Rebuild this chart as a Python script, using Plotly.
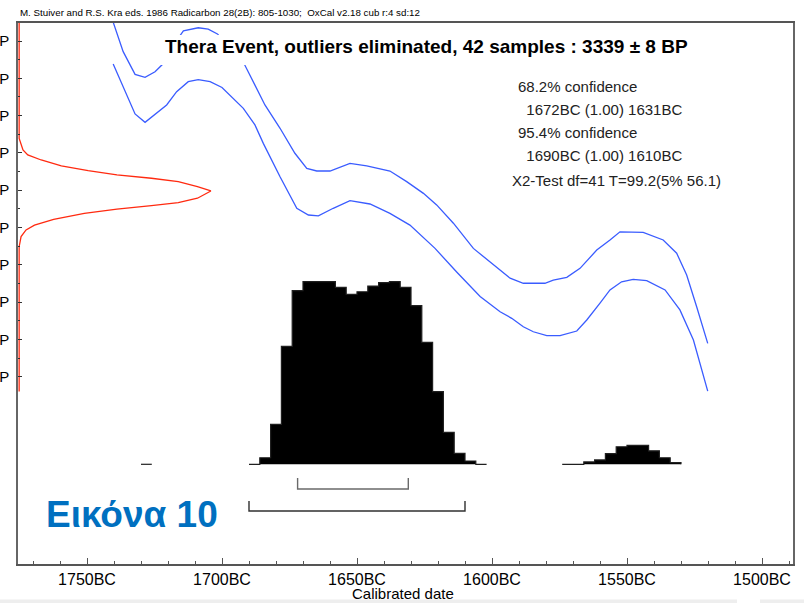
import plotly.graph_objects as go

# ---------------- data ----------------
# calibration curve band (cal BC, radiocarbon BP)
upper_years = [1740.4, 1736.6, 1732.2, 1728.5, 1724.8, 1722.0, 1718.5, 1714.3, 1708.8, 1705.1,
               1701.7, 1696.7, 1691.7, 1684.1, 1678.5, 1673.0, 1668.6, 1664.9, 1660.0, 1652.6,
               1646.4, 1637.8, 1631.6, 1625.4, 1620.5, 1614.3, 1606.9, 1597.0, 1593.3, 1588.4,
               1580.4, 1577.3, 1572.3, 1567.4, 1561.2, 1556.3, 1552.6, 1544.0, 1536.6, 1531.6,
               1527.9, 1524.2, 1520.1]
upper_bp = [3430.5, 3414.3, 3402.1, 3400.5, 3403.5, 3407.5, 3416.8, 3425.4, 3427.1, 3426.4,
            3423.8, 3416.2, 3407.5, 3385.7, 3373.2, 3359.8, 3351.7, 3350.3, 3350.3, 3354.4,
            3353.0, 3350.3, 3344.6, 3338.3, 3332.1, 3322.3, 3308.8, 3297.2, 3292.8, 3290.1,
            3290.1, 3291.8, 3293.3, 3298.1, 3307.9, 3313.3, 3317.7, 3317.4, 3313.3, 3306.2,
            3294.5, 3277.5, 3257.9]
lower_years = [1740.3, 1735.9, 1732.2, 1728.5, 1724.2, 1720.5, 1716.8, 1712.5, 1708.8, 1704.4,
               1700.0, 1697.0, 1692.1, 1687.8, 1684.7, 1678.5, 1672.3, 1668.0, 1664.3, 1658.8,
               1652.6, 1645.2, 1637.8, 1630.4, 1621.1, 1613.0, 1604.4, 1597.0, 1592.7, 1588.4,
               1584.7, 1579.7, 1574.8, 1568.6, 1564.9, 1560.0, 1556.3, 1552.0, 1547.7, 1542.7,
               1535.9, 1530.4, 1525.4, 1520.1]
lower_bp = [3407.7, 3392.8, 3380.9, 3376.4, 3381.2, 3385.7, 3392.8, 3398.2, 3399.3, 3398.2,
            3395.1, 3391.0, 3383.9, 3375.0, 3365.1, 3347.2, 3330.3, 3326.7, 3326.2, 3330.3,
            3334.4, 3332.6, 3327.6, 3321.3, 3308.8, 3296.0, 3283.0, 3274.8, 3271.3, 3266.8,
            3264.1, 3262.0, 3262.0, 3264.5, 3270.4, 3279.4, 3286.5, 3290.9, 3292.2, 3291.5,
            3286.5, 3275.8, 3259.7, 3232.3]

# radiocarbon determination 3339 +/- 8 BP (relative probability)
r_bp = [3430.0, 3367.8, 3361.6, 3358.9, 3356.2, 3353.1, 3350.5, 3348.2, 3346.4, 3344.6, 3341.9,
        3339.6, 3335.7, 3333.3, 3331.7, 3329.8, 3327.6, 3324.4, 3321.3, 3318.7, 3315.1,
        3309.7, 3232.0]
r_prob = [0.0, 0.0, 0.02, 0.045, 0.115, 0.22, 0.36, 0.51, 0.69, 0.83, 0.93,
          1.0, 0.93, 0.83, 0.69, 0.51, 0.34, 0.18, 0.08, 0.036, 0.01,
          0.0, 0.0]

# calibrated distribution (bin start, cal BC; relative probability)
hist_a_years = [1690, 1686, 1682, 1678, 1674, 1670, 1666, 1662, 1658, 1654, 1650, 1646,
                1642, 1638, 1634, 1630, 1626, 1622, 1618, 1614, 1610, 1606, 1602]
hist_a_prob = [0.0, 0.036, 0.219, 0.646, 0.951, 1.0, 1.0, 1.0, 0.969, 0.931, 0.945, 0.976,
               0.995, 1.0, 0.969, 0.869, 0.668, 0.398, 0.175, 0.060, 0.018, 0.0, 0.0]
hist_b_years = [1574, 1566, 1562, 1558, 1554, 1550, 1546, 1542, 1538, 1534, 1530]
hist_b_prob = [0.0, 0.013, 0.024, 0.058, 0.096, 0.104, 0.104, 0.074, 0.036, 0.009, 0.0]
hist_c_years = [1730, 1726]
hist_c_prob = [0.0, 0.0]

range_68 = [1672, 1631]
range_95 = [1690, 1610]

x_ticks = [1750, 1700, 1650, 1600, 1550, 1500]
x_tick_labels = ["1750BC", "1700BC", "1650BC", "1600BC", "1550BC", "1500BC"]
y_ticks = [3420, 3400, 3380, 3360, 3340, 3320, 3300, 3280, 3260, 3240]
y_tick_labels = ["P"] * len(y_ticks)
y_minor = [3410, 3390, 3370, 3350, 3330, 3310, 3290, 3270, 3250]

title_text = "Thera Event, outliers eliminated, 42 samples : 3339 \u00b1 8 BP"
header_text = "M. Stuiver and R.S. Kra eds. 1986 Radicarbon 28(2B): 805-1030;  OxCal v2.18 cub r:4 sd:12"
x_title = "Calibrated date"
info_lines = ["68.2% confidence", "  1672BC (1.00) 1631BC", "95.4% confidence",
              "  1690BC (1.00) 1610BC", "X2-Test df=41 T=99.2(5% 56.1)"]

# ---------------- layout geometry (screen pixels) ----------------
W, H = 804, 603
L, R, T, B = 18, 793, 23, 564  # plot frame on screen
FONT = "Liberation Sans, Arial, sans-serif"


def px(x):
    return (x - L) / (R - L)


def py(y):
    return (B - y) / (B - T)


fig = go.Figure()

# calibrated histogram (y2)
for xs, ys in [(hist_a_years, hist_a_prob), (hist_b_years, hist_b_prob), (hist_c_years, hist_c_prob)]:
    fig.add_trace(go.Scatter(x=xs, y=ys, xaxis="x", yaxis="y2", mode="lines",
                             line=dict(shape="hv", color="#202020", width=1.2),
                             fill="tozeroy", fillcolor="black", hoverinfo="skip"))

# confidence brackets
for rng, lvl, tip, col in [(range_68, -0.135, -0.075, "#6a6a6a"), (range_95, -0.256, -0.201, "#303030")]:
    fig.add_trace(go.Scatter(x=[rng[0], rng[0], rng[1], rng[1]], y=[tip, lvl, lvl, tip],
                             xaxis="x", yaxis="y2", mode="lines",
                             line=dict(color=col, width=1.4), hoverinfo="skip"))

# calibration curve band
for xs, ys in [(upper_years, upper_bp), (lower_years, lower_bp)]:
    fig.add_trace(go.Scatter(x=xs, y=ys, xaxis="x", yaxis="y", mode="lines",
                             line=dict(color="#3a5cff", width=1.3), hoverinfo="skip"))

# radiocarbon date distribution (x2)
fig.add_trace(go.Scatter(x=r_prob, y=r_bp, xaxis="x2", yaxis="y", mode="lines",
                         line=dict(color="#ff2a10", width=1.3), hoverinfo="skip"))

x_lo = 1750 + (87 - L) / 2.7
x_hi = 1750 - (R - 87) / 2.7
y_lo = 3420 - (B - 41) / 1.865
y_hi = 3420 + (41 - T) / 1.865
y2_unit = 182.6
y2_lo = -(B - 464.3) / y2_unit
y2_hi = (464.3 - T) / y2_unit

fig.update_layout(
    width=W, height=H,
    margin=dict(l=L, r=W - R, t=T, b=H - B),
    paper_bgcolor="white", plot_bgcolor="white",
    showlegend=False,
    font=dict(family=FONT, color="black"),
    xaxis=dict(range=[x_lo, x_hi], tickmode="array", tickvals=x_ticks, ticktext=x_tick_labels,
               ticks="inside", ticklen=6, tickcolor="#555", tickwidth=1,
               minor=dict(dtick=10, tick0=1500, ticks="inside", ticklen=3, tickcolor="#555"),
               showline=True, linecolor="#555", linewidth=1.5, mirror=True, automargin=False,
               showgrid=False, zeroline=False, tickfont=dict(size=16, family=FONT),
               ticklabelstandoff=0),
    yaxis=dict(range=[y_lo, y_hi], tickmode="array", tickvals=y_ticks, ticktext=y_tick_labels,
               ticks="inside", ticklen=4, tickcolor="#333", tickwidth=1,
               minor=dict(tickmode="array", tickvals=y_minor, ticks="inside", ticklen=2, tickcolor="#333"),
               showline=True, linecolor="#666", linewidth=1.5, mirror=True, automargin=False,
               showgrid=False, zeroline=False, tickfont=dict(size=15, family=FONT),
               ticklabelstandoff=4),
    xaxis2=dict(overlaying="x", range=[-0.006, (R - L) / 192.0], visible=False),
    yaxis2=dict(overlaying="y", range=[y2_lo, y2_hi], visible=False),
)

# white box behind title (masks the curves, as in the original)
fig.add_shape(type="rect", xref="paper", yref="paper", x0=px(158), x1=px(696), y0=py(65), y1=py(35),
              fillcolor="white", line=dict(width=0), layer="above")
# light strip at the very bottom of the window
for x0, x1 in [(0, 737), (760, 804)]:
    fig.add_shape(type="rect", xref="paper", yref="paper", x0=px(x0), x1=px(x1), y0=py(603), y1=py(599.5),
                  fillcolor="#eeeeee", line=dict(width=0), layer="below")

fig.add_annotation(text="<b>" + title_text + "</b>", xref="paper", yref="paper",
                   x=px(426.5), y=py(46.5), xanchor="center", yanchor="middle", showarrow=False,
                   font=dict(size=19, family=FONT, color="black"))
fig.add_annotation(text=header_text, xref="paper", yref="paper", x=px(18), y=py(12.5),
                   xanchor="left", yanchor="middle", showarrow=False,
                   font=dict(size=9.75, family=FONT, color="black"))
fig.add_annotation(text=x_title, xref="paper", yref="paper", x=px(403), y=py(602.5),
                   xanchor="center", yanchor="bottom", showarrow=False, borderpad=0,
                   font=dict(size=15, family=FONT, color="black"))
for txt, xx, yy in zip(info_lines, [516, 516, 516, 516, 510], [86, 109, 132, 155, 180]):
    fig.add_annotation(text=txt.replace(" ", "&nbsp;") if txt.startswith(" ") else txt,
                       xref="paper", yref="paper", x=px(xx), y=py(yy),
                       xanchor="left", yanchor="middle", showarrow=False,
                       font=dict(size=15, family=FONT, color="#222"))
fig.add_annotation(text="<b>\u0395\u03b9\u03ba\u03cc\u03bd\u03b1 10</b>", xref="paper", yref="paper",
                   x=px(44), y=py(514), xanchor="left", yanchor="middle", showarrow=False,
                   font=dict(size=37, family=FONT, color="#0070c0"))

# remove the default page margin so the figure fills the window exactly
fig.write_html("out.html", config={"displayModeBar": False},
               post_script="document.body.style.margin='0px';document.body.style.overflow='hidden';")
